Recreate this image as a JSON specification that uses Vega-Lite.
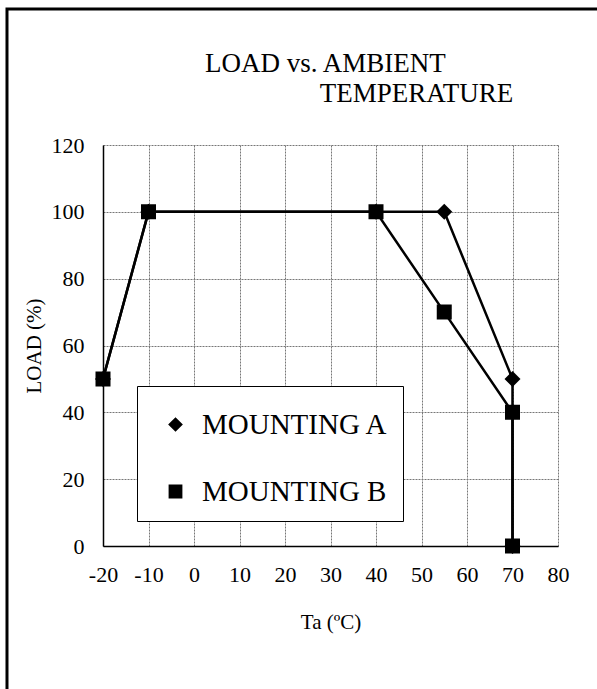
{
  "$schema": "https://vega.github.io/schema/vega-lite/v6.json",
  "width": 455,
  "height": 401,
  "autosize": {"type": "none"},
  "padding": {"left": 103, "top": 145, "right": 39, "bottom": 143},
  "background": "white",
  "config": {
    "font": "Liberation Serif",
    "view": {"stroke": null},
    "axis": {
      "labelFont": "Liberation Serif",
      "titleFont": "Liberation Serif",
      "labelFontSize": 22,
      "titleFontSize": 21,
      "titleFontWeight": "normal",
      "labelColor": "black",
      "titleColor": "black",
      "domainColor": "black",
      "domainWidth": 1.5,
      "ticks": false,
      "grid": true,
      "gridColor": "#777",
      "gridDash": [2, 1],
      "gridWidth": 1,
      "gridOpacity": 1,
      "labelOverlap": false,
      "labelFlush": false
    }
  },
  "title": {
    "text": ["LOAD vs. AMBIENT", "\u200b\u00a0\u00a0\u00a0\u00a0\u00a0\u00a0\u00a0\u00a0\u00a0\u00a0\u00a0\u00a0\u00a0\u00a0\u00a0\u00a0\u00a0TEMPERATURE"],
    "anchor": "start",
    "frame": "group",
    "dx": 102,
    "offset": -101,
    "fontSize": 27,
    "fontWeight": "normal",
    "font": "Liberation Serif",
    "color": "black",
    "lineHeight": 30
  },
  "datasets": {
    "load": [
      {"series": "MOUNTING A", "i": 1, "ta": -20, "load": 50},
      {"series": "MOUNTING A", "i": 2, "ta": -10, "load": 100},
      {"series": "MOUNTING A", "i": 3, "ta": 40, "load": 100},
      {"series": "MOUNTING A", "i": 4, "ta": 55, "load": 100},
      {"series": "MOUNTING A", "i": 5, "ta": 70, "load": 50},
      {"series": "MOUNTING A", "i": 6, "ta": 70, "load": 0},
      {"series": "MOUNTING B", "i": 1, "ta": -20, "load": 50},
      {"series": "MOUNTING B", "i": 2, "ta": -10, "load": 100},
      {"series": "MOUNTING B", "i": 3, "ta": 40, "load": 100},
      {"series": "MOUNTING B", "i": 4, "ta": 55, "load": 70},
      {"series": "MOUNTING B", "i": 5, "ta": 70, "load": 40},
      {"series": "MOUNTING B", "i": 6, "ta": 70, "load": 0}
    ]
  },
  "layer": [
    {
      "data": {"name": "load"},
      "mark": {"type": "line", "color": "black", "strokeWidth": 2.5},
      "encoding": {
        "x": {
          "field": "ta", "type": "quantitative",
          "scale": {"domain": [-20, 80], "nice": false, "zero": false},
          "axis": {"values": [-20, -10, 0, 10, 20, 30, 40, 50, 60, 70, 80], "labelExpr": "toString(datum.value)", "title": "Ta (ºC)", "labelPadding": 18, "titlePadding": 26, "grid": true}
        },
        "y": {
          "field": "load", "type": "quantitative",
          "scale": {"domain": [0, 120], "nice": false},
          "axis": {"values": [0, 20, 40, 60, 80, 100, 120], "title": "LOAD (%)", "labelPadding": 19, "titlePadding": 7, "grid": true}
        },
        "detail": {"field": "series"},
        "order": {"field": "i"}
      }
    },
    {
      "data": {"name": "load"},
      "transform": [{"filter": "false"}],
      "mark": {"type": "point", "filled": false, "opacity": 1, "color": "black", "fill": "black", "stroke": "black", "strokeWidth": 2.5},
      "encoding": {
        "shape": {
          "field": "series", "type": "nominal",
          "scale": {
            "domain": ["MOUNTING A", "MOUNTING B"],
            "range": ["M-1.13,0H1.13M0,-0.32L0.32,0L0,0.32L-0.32,0Z", "M-1.13,0H1.13M-0.3,-0.3H0.3V0.3H-0.3Z"]
          },
          "legend": {
            "title": null,
            "orient": "none",
            "legendX": 34,
            "legendY": 241,
            "fillColor": "white",
            "strokeColor": "black",
            "padding": 14,
            "labelFont": "Liberation Serif",
            "labelFontSize": 29,
            "labelColor": "black",
            "labelLimit": 400,
            "labelOffset": 2,
            "symbolSize": 2116,
            "symbolFillColor": "black",
            "symbolStrokeColor": "black",
            "symbolStrokeWidth": 2.5,
            "rowPadding": 27
          }
        }
      }
    },
    {
      "data": {"name": "load"},
      "mark": {"type": "point", "filled": true, "opacity": 1, "color": "black"},
      "encoding": {
        "x": {"field": "ta", "type": "quantitative"},
        "y": {"field": "load", "type": "quantitative"},
        "shape": {"field": "series", "type": "nominal"},
        "size": {"value": 2500}
      }
    },
    {
      "data": {"values": [{}]},
      "mark": {"type": "rect", "fill": "transparent", "stroke": "black", "strokeWidth": 3, "clip": false},
      "encoding": {
        "x": {"datum": -41.1, "type": "quantitative"},
        "x2": {"datum": 100},
        "y": {"datum": 160.7, "type": "quantitative"},
        "y2": {"datum": -50}
      }
    }
  ]
}
